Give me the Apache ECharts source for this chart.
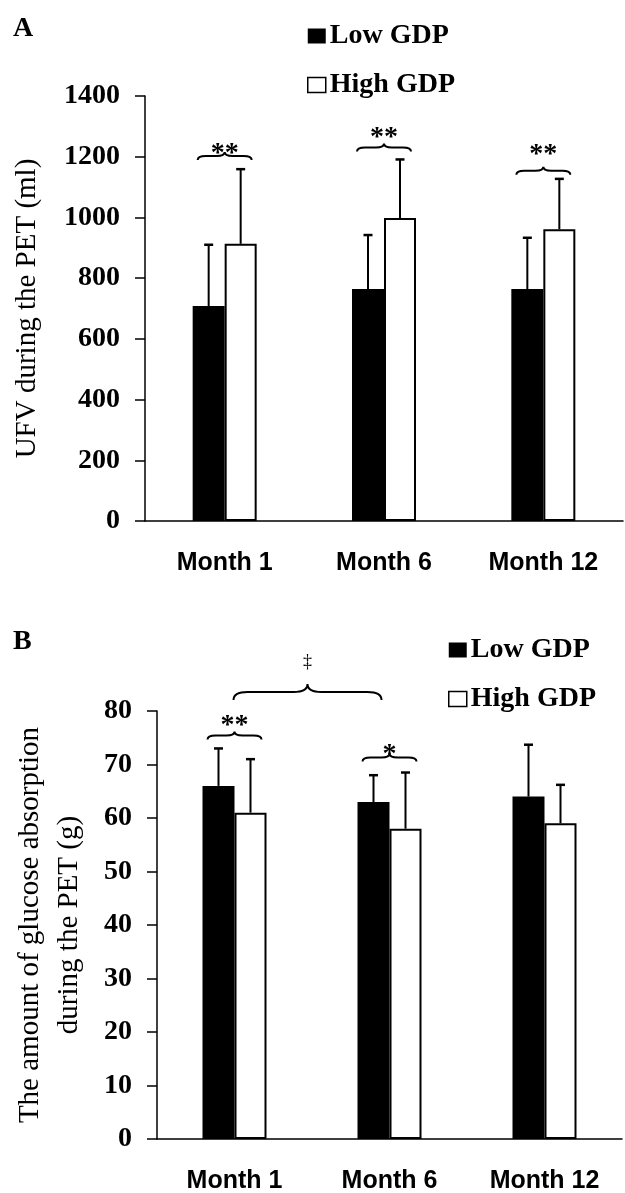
<!DOCTYPE html>
<html>
<head>
<meta charset="utf-8">
<script src="https://cdn.jsdelivr.net/npm/echarts@6/dist/echarts.min.js"></script>
<style>
  html, body { margin: 0; padding: 0; background: #fff; }
  #chart { width: 625px; height: 1193px; }
</style>
</head>
<body>
<div id="chart"></div>
<script>
// ---------------- data ----------------
const months = ['Month 1', 'Month 6', 'Month 12'];

// Panel A: UFV during the PET (ml)
const ufvLow = [708, 764, 764];
const ufvHigh = [913, 998, 961];
const ufvLowErrTop = [910, 942, 933];
const ufvHighErrTop = [1159, 1191, 1127];
const ufvAxis = { min: 0, max: 1400, interval: 200 };
// significance braces (category from/to, brace level, mark level, mark)
const ufvBraceFrom = [0, 1, 2];
const ufvBraceTo = [0, 1, 2];
const ufvBraceLevel = [1202, 1230, 1154];
const ufvMarkLevel = [1226, 1278, 1222];
const ufvMarks = ['**', '**', '**'];

// Panel B: glucose absorption during the PET (g)
const gluLow = [66, 63, 64];
const gluHigh = [61, 58, 59];
const gluLowErrTop = [73, 68, 73.7];
const gluHighErrTop = [71, 68.5, 66.2];
const gluAxis = { min: 0, max: 80, interval: 10 };
const gluBraceFrom = [0, 1, 0];
const gluBraceTo = [0, 1, 1];
const gluBraceLevel = [75.4, 71.3, 83.55];
const gluMarkLevel = [78.2, 72.7, 89.2];
const gluMarks = ['**', '*', '\u2021'];

const seriesNames = ['Low GDP', 'High GDP'];

// ---------------- styles ----------------
const SERIF = 'Liberation Serif';
const SANS = 'Liberation Sans';
const BAR_W = 32;
const CAP = 4.5;

function errData(low, lowTop, high, highTop) {
  const out = [];
  for (let i = 0; i < low.length; i++) {
    out.push([i, lowTop[i], low[i], -1]);
    out.push([i, highTop[i], high[i], 1]);
  }
  return out;
}

function errRender(params, api) {
  const cat = api.value(0);
  const pt = api.coord([cat, api.value(1)]);
  const pb = api.coord([cat, api.value(2)]);
  const x = pt[0] + api.value(3) * BAR_W / 2;
  return {
    type: 'group',
    children: [
      { type: 'line', shape: { x1: x, y1: pb[1], x2: x, y2: pt[1] }, style: { stroke: '#000', lineWidth: 2 } },
      { type: 'line', shape: { x1: x - CAP, y1: pt[1], x2: x + CAP, y2: pt[1] }, style: { stroke: '#000', lineWidth: 2.5 } }
    ]
  };
}

function braceData(from, to, level, markLevel) {
  return from.map((f, i) => [f, to[i], level[i], markLevel[i]]);
}

function makeBraceRender(marks) {
  return function (params, api) {
    const c0 = api.coord([api.value(0), api.value(2)]);
    const c1 = api.coord([api.value(1), api.value(2)]);
    const m = api.coord([api.value(0), api.value(3)]);
    const y = c0[1];
    let x0, x1, d, r;
    if (api.value(0) === api.value(1)) {
      x0 = c0[0] - 27; x1 = c0[0] + 27; d = 4; r = 8;
    } else {
      x0 = c0[0] - 1; x1 = c1[0] - 8; d = 8; r = 14;
    }
    const xc = (x0 + x1) / 2;
    const path =
      'M' + x0 + ' ' + (y + d) +
      ' Q' + x0 + ' ' + y + ' ' + (x0 + r) + ' ' + y +
      ' L' + (xc - r) + ' ' + y +
      ' Q' + xc + ' ' + y + ' ' + xc + ' ' + (y - d) +
      ' Q' + xc + ' ' + y + ' ' + (xc + r) + ' ' + y +
      ' L' + (x1 - r) + ' ' + y +
      ' Q' + x1 + ' ' + y + ' ' + x1 + ' ' + (y + d);
    const mark = marks[params.dataIndex];
    const isDagger = mark === '\u2021';
    return {
      type: 'group',
      children: [
        { type: 'path', shape: { pathData: path }, style: { stroke: '#000', lineWidth: 2, fill: null } },
        {
          type: 'text',
          style: {
            text: mark,
            x: xc,
            y: m[1] + (isDagger ? 0 : 5),
            align: 'center',
            verticalAlign: 'middle',
            fontFamily: SERIF,
            fontWeight: isDagger ? 'normal' : 'bold',
            fontSize: isDagger ? 18 : 28,
            fill: '#000'
          }
        }
      ]
    };
  };
}

function yAxisCfg(ax, idx, name, gap, lineHeight) {
  return {
    type: 'value', gridIndex: idx,
    min: ax.min, max: ax.max, interval: ax.interval,
    name: name, nameLocation: 'middle', nameRotate: 90, nameGap: gap,
    nameTextStyle: { fontFamily: SERIF, fontSize: 29, color: '#000', lineHeight: lineHeight, align: 'center' },
    axisLine: { show: true, lineStyle: { color: '#000', width: 1.5 } },
    axisTick: { show: true, length: 10, inside: false, lineStyle: { color: '#000', width: 1.5 } },
    splitLine: { show: false },
    axisLabel: { fontFamily: SERIF, fontWeight: 'bold', fontSize: 28, color: '#000', margin: 25,
      formatter: function (v) { return String(v); } }
  };
}

function xAxisCfg(idx, margin) {
  return {
    type: 'category', gridIndex: idx, data: months,
    axisLine: { show: true, onZero: false, lineStyle: { color: '#000', width: 1.5 } },
    axisTick: { show: false },
    axisLabel: { fontFamily: SANS, fontWeight: 'bold', fontSize: 25, color: '#000', margin: margin }
  };
}

function legendCfg(left, top) {
  return {
    orient: 'vertical', left: left, top: top, padding: 0,
    itemWidth: 18, itemHeight: 15, itemGap: 21, icon: 'rect',
    selectedMode: false,
    data: seriesNames,
    textStyle: { fontFamily: SERIF, fontWeight: 'bold', fontSize: 28, color: '#000', lineHeight: 28, padding: [0, 0, 0, -1] },
    itemStyle: { borderWidth: 1.5 }
  };
}

const lowStyle = { color: '#000' };
const highStyle = { color: '#fff', borderColor: '#000', borderWidth: 2 };

const option = {
  animation: false,
  backgroundColor: '#fff',
  title: [
    { text: 'A', left: 13, top: 15, padding: 0, textStyle: { fontFamily: SERIF, fontWeight: 'bold', fontSize: 28, color: '#000' } },
    { text: 'B', left: 13, top: 628, padding: 0, textStyle: { fontFamily: SERIF, fontWeight: 'bold', fontSize: 28, color: '#000' } }
  ],
  legend: [legendCfg(307, 22), legendCfg(448, 636)],
  grid: [
    { left: 145, top: 96, width: 478, height: 425, containLabel: false, outerBoundsMode: 'none' },
    { left: 157, top: 711, width: 465, height: 428, containLabel: false, outerBoundsMode: 'none' }
  ],
  xAxis: [xAxisCfg(0, 30), xAxisCfg(1, 30)],
  yAxis: [
    yAxisCfg(ufvAxis, 0, 'UFV during the PET (ml)', 103, 29),
    yAxisCfg(gluAxis, 1, 'The amount of glucose absorption\nduring the PET (g)', 68, 39)
  ],
  series: [
    { name: seriesNames[0], type: 'bar', xAxisIndex: 0, yAxisIndex: 0, data: ufvLow, barWidth: BAR_W, barGap: '0%', itemStyle: lowStyle },
    { name: seriesNames[1], type: 'bar', xAxisIndex: 0, yAxisIndex: 0, data: ufvHigh, barWidth: BAR_W, barGap: '0%', itemStyle: highStyle },
    { name: seriesNames[0], type: 'bar', xAxisIndex: 1, yAxisIndex: 1, data: gluLow, barWidth: BAR_W, barGap: '0%', itemStyle: lowStyle },
    { name: seriesNames[1], type: 'bar', xAxisIndex: 1, yAxisIndex: 1, data: gluHigh, barWidth: BAR_W, barGap: '0%', itemStyle: highStyle },
    { type: 'custom', xAxisIndex: 0, yAxisIndex: 0, z: 5, clip: false, renderItem: errRender,
      encode: { x: 0, y: [1, 2] }, data: errData(ufvLow, ufvLowErrTop, ufvHigh, ufvHighErrTop) },
    { type: 'custom', xAxisIndex: 1, yAxisIndex: 1, z: 5, clip: false, renderItem: errRender,
      encode: { x: 0, y: [1, 2] }, data: errData(gluLow, gluLowErrTop, gluHigh, gluHighErrTop) },
    { type: 'custom', xAxisIndex: 0, yAxisIndex: 0, z: 6, clip: false, renderItem: makeBraceRender(ufvMarks),
      encode: { x: [0, 1], y: [2, 3] }, data: braceData(ufvBraceFrom, ufvBraceTo, ufvBraceLevel, ufvMarkLevel) },
    { type: 'custom', xAxisIndex: 1, yAxisIndex: 1, z: 6, clip: false, renderItem: makeBraceRender(gluMarks),
      encode: { x: [0, 1], y: [2, 3] }, data: braceData(gluBraceFrom, gluBraceTo, gluBraceLevel, gluMarkLevel) }
  ]
};

const chart = echarts.init(document.getElementById('chart'), null, { renderer: 'canvas' });
chart.setOption(option);
</script>
</body>
</html>
